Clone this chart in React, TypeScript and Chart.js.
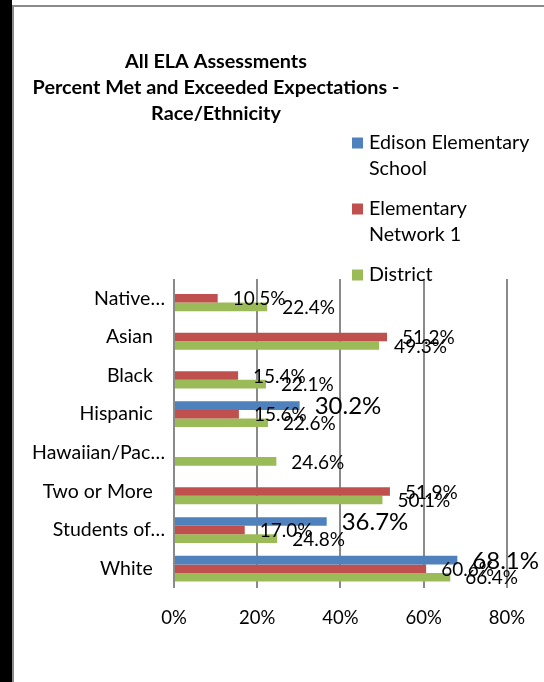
import React, { useEffect, useRef } from "react";
import { Chart, registerables } from "chart.js";

Chart.register(...registerables);

const categories = ["Native…", "Asian", "Black", "Hispanic", "Hawaiian/Pac…", "Two or More", "Students of…", "White"];
const seriesNames = ["Edison Elementary\nSchool", "Elementary\nNetwork 1", "District"];
const edison = [null, null, null, 30.2, null, null, 36.7, 68.1];
const network1 = [10.5, 51.2, 15.4, 15.6, null, 51.9, 17.0, 60.6];
const district = [22.4, 49.3, 22.1, 22.6, 24.6, 50.1, 24.8, 66.4];
const titleLines = ["All ELA Assessments", "Percent Met and Exceeded Expectations -", "Race/Ethnicity"];
const xTicks = [0, 20, 40, 60, 80];

const colors = ["#4F81BD", "#C0504D", "#9BBB59"];
const labelSizes = [24, 19, 19];
const FONT = "Lato, 'Open Sans', sans-serif";

const W = 530;
const H = 675;

export default function App() {
  const ref = useRef<HTMLCanvasElement | null>(null);

  useEffect(() => {
    let chart: Chart | null = null;
    let cancelled = false;

    const make = () => {
      if (cancelled || !ref.current) return;
      const decorPlugin = {
        id: "decor",
        afterDraw(c: any) {
          const ctx = c.ctx as CanvasRenderingContext2D;
          ctx.save();
          // title
          ctx.fillStyle = "#000";
          ctx.font = `bold 19.8px ${FONT}`;
          ctx.textAlign = "center";
          ctx.textBaseline = "middle";
          const tY = [55, 81, 107];
          titleLines.forEach((t, i) => ctx.fillText(t, 202, tY[i]));
          // legend
          ctx.font = `19.7px ${FONT}`;
          ctx.textAlign = "left";
          const rowStarts = [136, 202, 268];
          seriesNames.forEach((name, i) => {
            const y0 = rowStarts[i];
            ctx.fillStyle = colors[i];
            ctx.fillRect(338, y0 - 5.5, 11, 11);
            ctx.fillStyle = "#000";
            name.split("\n").forEach((ln, k) => ctx.fillText(ln, 355, y0 + k * 25.5));
          });
          ctx.restore();
        },
        afterDatasetsDraw(c: any) {
          const ctx = c.ctx as CanvasRenderingContext2D;
          ctx.save();
          ctx.fillStyle = "#000";
          ctx.textAlign = "left";
          ctx.textBaseline = "middle";
          c.data.datasets.forEach((ds: any, i: number) => {
            const meta = c.getDatasetMeta(i);
            ctx.font = `${labelSizes[i]}px ${FONT}`;
            meta.data.forEach((el: any, j: number) => {
              const v = ds.data[j];
              if (v == null) return;
              ctx.fillText(v.toFixed(1) + "%", el.x + 15, el.y + 1);
            });
          });
          ctx.restore();
        },
      };

      chart = new Chart(ref.current, {
        type: "bar",
        data: {
          labels: categories,
          datasets: [
            { label: seriesNames[0], data: edison, backgroundColor: colors[0] },
            { label: seriesNames[1], data: network1, backgroundColor: colors[1] },
            { label: seriesNames[2], data: district, backgroundColor: colors[2] },
          ],
        },
        options: {
          indexAxis: "y",
          responsive: false,
          animation: false,
          datasets: { bar: { categoryPercentage: 0.667, barPercentage: 1.0 } },
          layout: { padding: { top: 272, right: 35.5, left: 0, bottom: 0 } },
          plugins: {
            legend: { display: false },
            title: { display: false },
            tooltip: { enabled: false },
          },
          scales: {
            x: {
              min: 0,
              max: 80,
              afterFit: (s: any) => { s.height = 94; },
              afterBuildTicks: (s: any) => { s.ticks = xTicks.map((v) => ({ value: v })); },
              grid: { color: "#8a8a8a", lineWidth: 2, drawTicks: false },
              border: { display: false },
              ticks: {
                padding: 19,
                color: "#000",
                font: { family: FONT, size: 18.5 },
                callback: (v: any) => v + "%",
              },
            },
            y: {
              afterFit: (s: any) => { s.width = 160; },
              grid: { display: false },
              border: { display: false },
              ticks: {
                padding: 1,
                color: "#000",
                font: { family: FONT, size: 19.5 },
                callback: function (this: any, v: any) {
                  const l = categories[v as number];
                  return l.endsWith("…") ? l : l + "\u2002\u2009";
                },
              },
            },
          },
        },
        plugins: [decorPlugin],
      });
    };

    const fontsReady = (document as any).fonts
      ? Promise.all([
          (document as any).fonts.load(`18px Lato`),
          (document as any).fonts.load(`bold 18px Lato`),
        ]).catch(() => null)
      : Promise.resolve();
    fontsReady.then(make);

    return () => {
      cancelled = true;
      if (chart) chart.destroy();
    };
  }, []);

  return (
    <div style={{ position: "fixed", left: 0, top: 0, width: 544, height: 682, background: "#fff", overflow: "hidden" }}>
      <div style={{ position: "absolute", left: 0, top: 0, width: 12, height: 682, background: "#000" }} />
      <div
        style={{
          position: "absolute",
          left: 12,
          top: 5,
          width: 700,
          height: 800,
          borderLeft: "2px solid #8a8a8a",
          borderTop: "2px solid #8a8a8a",
        }}
      />
      <canvas ref={ref} width={W} height={H} style={{ position: "absolute", left: 14, top: 7, width: W, height: H }} />
    </div>
  );
}
